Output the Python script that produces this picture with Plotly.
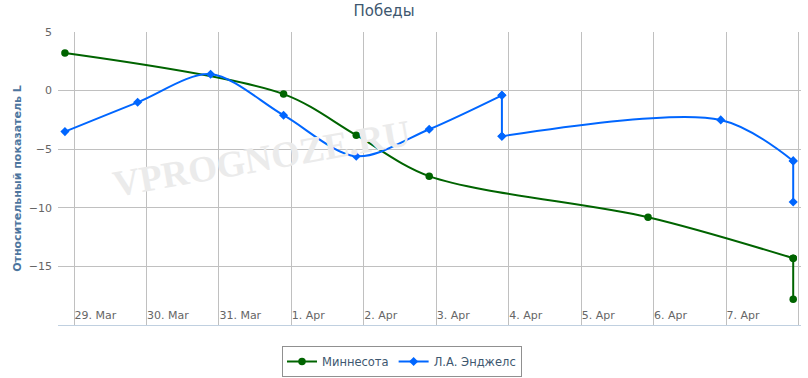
import plotly.graph_objects as go

title_text = "Победы"
y_title = "Относительный показатель L"
watermark = "VPROGNOZE.RU"

mn_name = "Миннесота"
mn_dates = ["2013-03-28 21:00", "2013-03-31 21:25", "2013-04-01 21:30", "2013-04-02 21:40",
            "2013-04-05 22:10", "2013-04-07 22:15", "2013-04-07 22:15"]
mn_values = [3.2, -0.3, -3.8, -7.3, -10.8, -14.3, -17.8]

la_name = "Л.А. Энджелс"
la_dates = ["2013-03-28 21:00", "2013-03-29 21:05", "2013-03-30 21:15", "2013-03-31 21:25",
            "2013-04-01 21:30", "2013-04-02 21:40", "2013-04-03 21:45", "2013-04-03 21:45",
            "2013-04-06 22:15", "2013-04-07 22:15", "2013-04-07 22:15"]
la_values = [-3.5, -1.0, 1.4, -2.1, -5.6, -3.3, -0.4, -3.9, -2.5, -6.0, -9.5]

x_range = ["2013-03-28 18:42", "2013-04-08 00:50"]
y_ticks = [5, 0, -5, -10, -15, -20]


def segments(dates, values):
    """Split a series into smooth runs and vertical jumps (same timestamp)."""
    segs = []
    start = 0
    for i in range(1, len(dates)):
        if dates[i] == dates[i - 1]:
            if i - 1 > start:
                segs.append(("spline", dates[start:i], values[start:i]))
            segs.append(("linear", dates[i - 1:i + 1], values[i - 1:i + 1]))
            start = i
    if len(dates) - 1 > start:
        segs.append(("spline", dates[start:], values[start:]))
    return segs


fig = go.Figure()
for name, dates, values, color, symbol, msize in [
    (mn_name, mn_dates, mn_values, "#006400", "circle", 7.5),
    (la_name, la_dates, la_values, "#0066FF", "diamond", 7),
]:
    for k, (shape, xs, ys) in enumerate(segments(dates, values)):
        fig.add_trace(go.Scatter(
            x=xs, y=ys, name=name, legendgroup=name, showlegend=(k == 0),
            mode="lines+markers", hoverinfo="x+y",
            line=dict(color=color, width=2, shape=shape, smoothing=0.9),
            marker=dict(symbol=symbol, size=msize, color=color),
        ))

fig.update_layout(
    width=808, height=378,
    margin=dict(l=58, r=7, t=32, b=53),
    paper_bgcolor="white", plot_bgcolor="white",
    font=dict(family="DejaVu Sans", size=11, color="#666666"),
    title=dict(text=title_text, x=384 / 808, xref="container", xanchor="center",
               y=1 - 11 / 378, yref="container", yanchor="middle",
               font=dict(family="DejaVu Sans", size=15, color="#3E576F")),
    showlegend=True,
    legend=dict(orientation="h", xref="container", x=402 / 808, xanchor="center",
                yref="container", y=(378 - 346) / 378, yanchor="top",
                bordercolor="#909090", borderwidth=1, bgcolor="white",
                font=dict(family="DejaVu Sans", size=11.5, color="#3E576F"),
                itemwidth=30, tracegroupgap=0),
    xaxis=dict(type="date", range=x_range, dtick=86400000, tick0="2013-03-29",
               tickformat="%-d. %b", ticklabelposition="inside right",
               showgrid=True, gridcolor="#C0C0C0", gridwidth=1,
               showline=True, linecolor="#C0D0E0", linewidth=1,
               ticks="", tickfont=dict(size=11, color="#666666"), zeroline=False),
    yaxis=dict(range=[-20, 5], tickvals=y_ticks, showgrid=True, gridcolor="#C0C0C0",
               gridwidth=1, zeroline=False, showline=False, ticks="",
               ticklabelstandoff=5,
               tickfont=dict(size=11, color="#666666"),
               title=dict(text=y_title, standoff=4,
                          font=dict(family="DejaVu Sans", size=11, color="#4D759E",
                                    weight="bold"))),
    annotations=[dict(text=watermark, xref="paper", yref="paper",
                      x=(261 - 58) / 743, y=(325 - 158) / 293, showarrow=False,
                      xanchor="center", yanchor="middle", textangle=-10,
                      font=dict(family="Liberation Serif", size=37, color="#EBEBEB",
                                weight="bold"))],
)
fig.write_html("out.html", config={"displayModeBar": False},
               post_script="document.body.style.margin='0px';")
